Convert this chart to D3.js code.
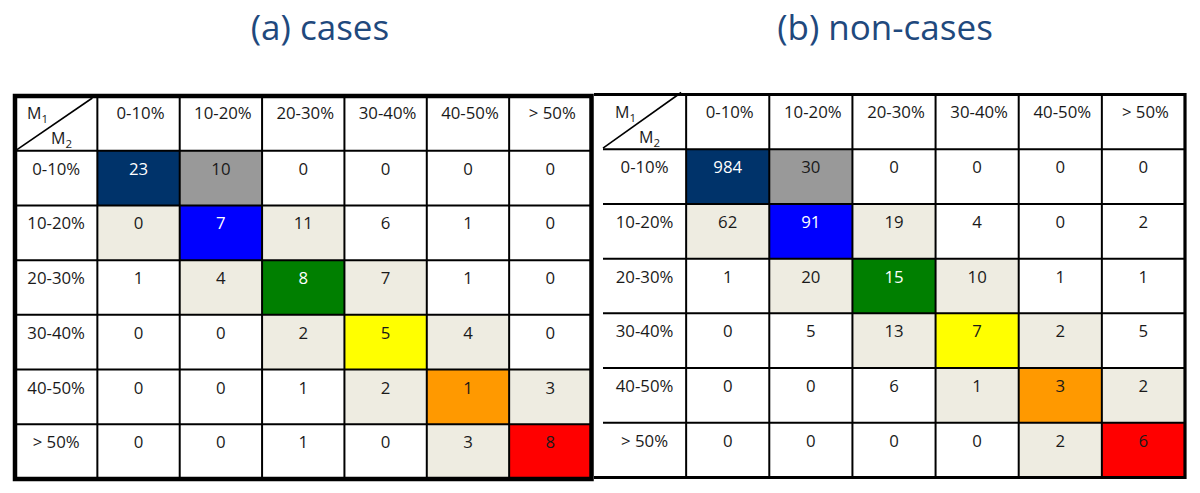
<!DOCTYPE html>
<html>
<head>
<meta charset="utf-8">
<script src="https://cdnjs.cloudflare.com/ajax/libs/d3/7.8.5/d3.min.js"></script>
<style>
  body { margin: 0; background: #fff; }
  text { font-family: "Open Sans", sans-serif; }
</style>
</head>
<body>
<div id="chart-area"></div>
<script>

/* data */
const colLabels = ["0-10%", "10-20%", "20-30%", "30-40%", "40-50%", "> 50%"];
const rowLabels = ["0-10%", "10-20%", "20-30%", "30-40%", "40-50%", "> 50%"];

const casesCounts = [
    [23, 10, 0, 0, 0, 0],
    [0, 7, 11, 6, 1, 0],
    [1, 4, 8, 7, 1, 0],
    [0, 0, 2, 5, 4, 0],
    [0, 0, 1, 2, 1, 3],
    [0, 0, 1, 0, 3, 8]
];

const nonCasesCounts = [
    [984, 30, 0, 0, 0, 0],
    [62, 91, 19, 4, 0, 2],
    [1, 20, 15, 10, 1, 1],
    [0, 5, 13, 7, 2, 5],
    [0, 0, 6, 1, 3, 2],
    [0, 0, 0, 0, 2, 6]
];

const panelTitles = ["(a) cases", "(b) non-cases"];

/* graphical constants */
const W = 1200, H = 493;
const FONT_SIZE = "16.8px";
const DIAG_COLORS = ["#00336a", "#0000ff", "#007f00", "#ffff00", "#ff9900", "#ff0000"];
const WHITE_TEXT = new Set([0, 1, 2]); // diagonal cells with white text
const GRAY = "#999999";
const BEIGE = "#eeece1";
const TITLE_COLOR = "#1f497d";

const svg = d3.select("#chart-area")
    .append("svg")
    .attr("width", W)
    .attr("height", H);

function cellFill(i, j) {
    if (i === j) return DIAG_COLORS[i];
    if (i === 0 && j === 1) return GRAY;
    if (Math.abs(i - j) === 1) return BEIGE;
    return "#fff";
}

function cellTextColor(i, j) {
    return (i === j && WHITE_TEXT.has(i)) ? "#fff" : "#1a1a1a";
}

/**
 * Draws one table panel
 */
function drawTable(counts, title, geo) {
    const g = svg.append("g");
    const keys = ["hdr"].concat(colLabels);
    const rkeys = ["hdr"].concat(rowLabels);

    const x = d3.scaleBand().domain(keys).range([geo.left, geo.right]);
    const y = d3.scaleBand().domain(rkeys).range([geo.top, geo.bottom]);

    const cells = [];
    counts.forEach((row, i) => row.forEach((v, j) => cells.push({ i, j, v })));

    // fills
    g.selectAll("rect.cell")
        .data(cells)
        .enter()
        .append("rect")
        .attr("class", "cell")
        .attr("x", d => x(colLabels[d.j]))
        .attr("y", d => y(rowLabels[d.i]))
        .attr("width", x.bandwidth())
        .attr("height", y.bandwidth())
        .attr("fill", d => cellFill(d.i, d.j));

    // inner grid
    g.selectAll("line.v")
        .data(keys.slice(1))
        .enter()
        .append("line")
        .attr("x1", d => x(d)).attr("x2", d => x(d))
        .attr("y1", geo.top).attr("y2", geo.bottom)
        .attr("stroke", "#000").attr("stroke-width", 2);

    g.selectAll("line.h")
        .data(rkeys.slice(1))
        .enter()
        .append("line")
        .attr("x1", geo.left).attr("x2", geo.right)
        .attr("y1", d => y(d)).attr("y2", d => y(d))
        .attr("stroke", "#000").attr("stroke-width", 2);

    // header diagonal + M1/M2
    const hx = x("hdr"), hy = y("hdr");
    g.append("line")
        .attr("x1", hx + geo.diagInset).attr("y1", hy + y.bandwidth() - 1)
        .attr("x2", hx + x.bandwidth() - 5).attr("y2", hy + geo.diagTop)
        .attr("stroke", "#000").attr("stroke-width", 1.6);

    const m1 = g.append("text")
        .attr("x", hx + 12).attr("y", hy + 23)
        .attr("font-size", "16px").attr("fill", "#1a1a1a");
    m1.append("tspan").text("M");
    m1.append("tspan").attr("font-size", "11.5px").attr("dy", 4).text("1");

    const m2 = g.append("text")
        .attr("x", hx + 36).attr("y", hy + 48)
        .attr("font-size", "16px").attr("fill", "#1a1a1a");
    m2.append("tspan").text("M");
    m2.append("tspan").attr("font-size", "11.5px").attr("dy", 4).text("2");

    // column headers
    g.selectAll("text.col")
        .data(colLabels)
        .enter()
        .append("text")
        .attr("x", d => x(d) + x.bandwidth() / 2 + 2)
        .attr("y", hy + 23)
        .attr("text-anchor", "middle")
        .attr("font-size", FONT_SIZE)
        .attr("fill", "#1a1a1a")
        .text(d => d);

    // row headers
    g.selectAll("text.row")
        .data(rowLabels)
        .enter()
        .append("text")
        .attr("x", hx + x.bandwidth() / 2)
        .attr("y", d => y(d) + 24)
        .attr("text-anchor", "middle")
        .attr("font-size", FONT_SIZE)
        .attr("fill", "#1a1a1a")
        .text(d => d);

    // counts
    g.selectAll("text.val")
        .data(cells)
        .enter()
        .append("text")
        .attr("x", d => x(colLabels[d.j]) + x.bandwidth() / 2)
        .attr("y", d => y(rowLabels[d.i]) + 24)
        .attr("text-anchor", "middle")
        .attr("font-size", FONT_SIZE)
        .attr("fill", d => cellTextColor(d.i, d.j))
        .text(d => d.v);

    // outer border
    const bl = geo.borderLeft;
    g.append("path")
        .attr("d", geo.openLeft
            ? `M${bl},${geo.top} H${geo.right} V${geo.bottom} H${bl}`
            : `M${bl},${geo.top} H${geo.right} V${geo.bottom} H${bl} Z`)
        .attr("fill", "none")
        .attr("stroke", "#000")
        .attr("stroke-width", geo.borderWidth);

    // title
    svg.append("text")
        .attr("x", geo.titleX)
        .attr("y", 40)
        .attr("text-anchor", "middle")
        .attr("font-size", "35px")
        .attr("fill", TITLE_COLOR)
        .text(title);
}

drawTable(casesCounts, panelTitles[0], {
    left: 15, right: 591.5, top: 96, bottom: 479,
    borderLeft: 15, borderWidth: 4.5,
    openLeft: false, titleX: 320, diagTop: 2, diagInset: 2
});

drawTable(nonCasesCounts, panelTitles[1], {
    left: 603, right: 1185, top: 94.5, bottom: 477.5,
    borderLeft: 594, borderWidth: 3.2,
    openLeft: true, titleX: 885, diagTop: -2, diagInset: 0
});

</script>
</body>
</html>
